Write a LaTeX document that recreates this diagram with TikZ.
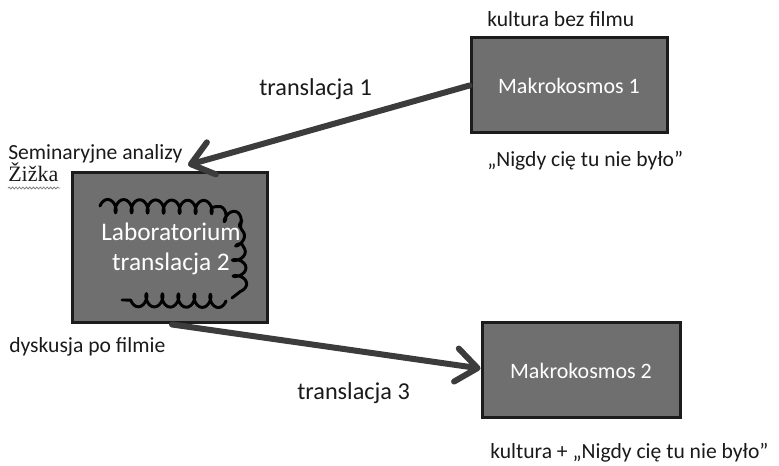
\documentclass[tikz,border=0pt]{standalone}
\usepackage{fontspec}
\setmainfont{Carlito}
\newfontfamily\serifz{Liberation Serif}
\usetikzlibrary{arrows.meta,decorations.pathmorphing,calc}
\definecolor{boxfill}{HTML}{6F6F6F}
\definecolor{boxedge}{HTML}{1C1C1C}
\definecolor{arrcol}{HTML}{3C3C3C}
\definecolor{txtcol}{HTML}{1A1A1A}
\tikzset{
  bigbox/.style={draw=boxedge, fill=boxfill, line width=2.25pt, inner sep=0pt,
    text=white, font=\fontsize{16.5}{20}\selectfont, align=center},
  lbl/.style={text=txtcol, inner sep=0pt, anchor=base west, font=\fontsize{16.2}{19}\selectfont},
  biglbl/.style={text=txtcol, inner sep=0pt, anchor=base west, font=\fontsize{18.2}{21}\selectfont},
  arr/.style={draw=arrcol, line width=4.5pt, line cap=round,
    -{Straight Barb[length=16pt, width=25pt, line cap=round, line join=round]}},
  scrib/.style={draw=black, line width=2.2pt, line cap=round, line join=round,
    decorate, decoration={coil, amplitude=5pt, segment length=12pt, aspect=0.55}}
}
\begin{document}
\begin{tikzpicture}[x=0.75pt, y=-0.75pt]
\useasboundingbox (0,0) rectangle (779,466);
% boxes
\node[bigbox, minimum width=147pt, minimum height=71.25pt] (m1) at (569,85.5) {Makrokosmos 1};
\node[bigbox, minimum width=146.25pt, minimum height=112.5pt] (lab) at (169.5,248) {};
\node[bigbox, minimum width=148.5pt, minimum height=71.25pt] (m2) at (581,370.5) {Makrokosmos 2};
% scribble
\draw[scrib] (100,206) -- (200,207) -- (228,216) -- (238,236) -- (240,284) -- (232,298);
\draw[scrib] (226,301) -- (122,300);
% lab text
\node[text=white, inner sep=0pt, anchor=base, font=\fontsize{19}{22.5}\selectfont] (labt1) at (171,241) {Laboratorium};
\node[text=white, inner sep=0pt, anchor=base, font=\fontsize{19}{22.5}\selectfont] (labt2) at (171,271) {translacja 2};
% arrows
\coordinate (tip1) at (188,165);
\draw[arr] (m1.west) -- (tip1);
\draw[arr] ($(lab.south)+(2.5,0)$) -- ($(m2.west)+(0,-2)$);
% labels
\node[lbl] (k1) at (487,27) {kultura bez filmu};
\node[biglbl] (t1) at (259,96) {translacja 1};
\node[lbl] (n1) at (487,167) {„Nigdy cię tu nie było”};
\node[lbl] (sem) at (8,160) {Seminaryjne analizy};
\node[text=txtcol, inner sep=0pt, anchor=base west, font=\serifz\fontsize{16.5}{19}\selectfont] (zz) at (8,182) {Žižka};
\coordinate (w1) at (8,188);
\coordinate (w2) at (60,188);
\draw[gray, line width=0.6pt, decorate, decoration={snake, amplitude=0.7pt, segment length=2.6pt}] (w1) -- (w2);
\node[lbl] (dys) at (9,353) {dyskusja po filmie};
\node[biglbl] (t3) at (297,400) {translacja 3};
\node[lbl] (k2) at (490,459) {kultura + „Nigdy cię tu nie było”};
\end{tikzpicture}
\end{document}
